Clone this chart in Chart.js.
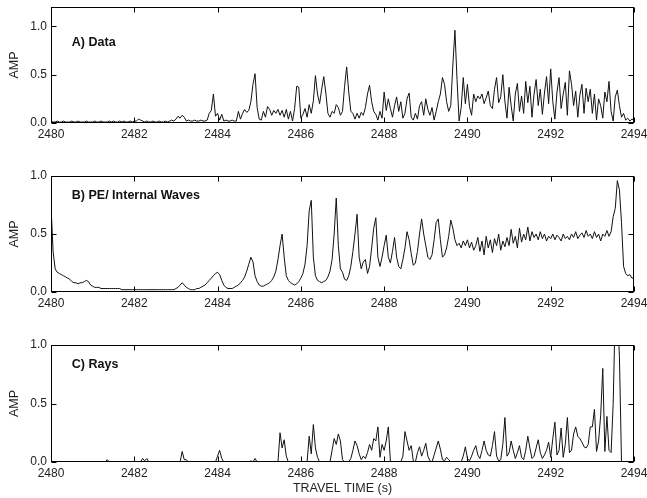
<!DOCTYPE html>
<html lang="en">
<head>
<meta charset="UTF-8">
<title>Arrival amplitudes vs travel time</title>
<script src="https://cdn.jsdelivr.net/npm/chart.js@4.4.0/dist/chart.umd.min.js"></script>
<style>
  html, body { margin: 0; padding: 0; background: #fff; }
  body { width: 647px; height: 498px; position: relative; overflow: hidden; }
  canvas { position: absolute; left: 0; }
  #chartA { top: 0; }
  #chartB { top: 169px; }
  #chartC { top: 338px; }
</style>
</head>
<body>
<canvas id="chartA" width="647" height="143"></canvas>
<canvas id="chartB" width="647" height="143"></canvas>
<canvas id="chartC" width="647" height="160"></canvas>
<script>
// sampling of the traces (s)
const TIME_START = 2480;
const TIME_STEP = 0.05;

const xTicks = [2480, 2482, 2484, 2486, 2488, 2490, 2492, 2494];
const yTicksA = [0, 0.5, 1.0];
const yTicks = [0, 0.5, 1.0];
const panelTitles = ['A) Data', 'B) PE/ Internal Waves', 'C) Rays'];

// A) measured amplitude, one row per second
const ampData = [
  0.02,0.01,0.01,0.02,0.01,0.01,0.02,0.01,0.01,0.01,0.02,0.01,0.01,0.02,0.01,0.01,0.01,0.02,0.01,0.01,
  0.01,0.02,0.01,0.01,0.02,0.01,0.01,0.01,0.02,0.01,0.02,0.01,0.01,0.02,0.01,0.02,0.01,0.01,0.02,0.01,
  0.02,0.02,0.04,0.03,0.02,0.01,0.02,0.01,0.01,0.02,0.01,0.01,0.02,0.01,0.01,0.02,0.01,0.02,0.03,0.02,
  0.04,0.07,0.05,0.08,0.06,0.02,0.03,0.02,0.02,0.03,0.02,0.02,0.03,0.02,0.02,0.03,0.10,0.13,0.30,0.07,
  0.10,0.03,0.09,0.02,0.03,0.02,0.02,0.03,0.02,0.02,0.12,0.04,0.10,0.14,0.11,0.13,0.22,0.40,0.51,0.16,
  0.04,0.03,0.12,0.06,0.17,0.14,0.08,0.13,0.10,0.14,0.08,0.13,0.06,0.14,0.04,0.12,0.02,0.15,0.38,0.37,
  0.05,0.09,0.15,0.06,0.19,0.10,0.23,0.49,0.30,0.20,0.35,0.48,0.31,0.10,0.06,0.12,0.10,0.19,0.16,0.08,
  0.12,0.38,0.58,0.32,0.12,0.10,0.04,0.10,0.05,0.11,0.08,0.16,0.30,0.39,0.22,0.12,0.09,0.03,0.12,0.05,
  0.32,0.13,0.25,0.15,0.06,0.18,0.27,0.12,0.22,0.05,0.10,0.25,0.31,0.06,0.03,0.10,0.04,0.18,0.22,0.08,
  0.25,0.14,0.08,0.16,0.03,0.12,0.22,0.30,0.47,0.40,0.22,0.12,0.18,0.60,0.96,0.45,0.02,0.16,0.47,0.20,
  0.40,0.17,0.08,0.30,0.22,0.28,0.25,0.30,0.20,0.26,0.33,0.18,0.15,0.35,0.47,0.21,0.27,0.50,0.22,0.05,
  0.37,0.18,0.02,0.30,0.41,0.12,0.28,0.10,0.43,0.21,0.38,0.06,0.30,0.45,0.18,0.35,0.09,0.31,0.48,0.20,
  0.56,0.22,0.04,0.32,0.47,0.15,0.30,0.42,0.08,0.54,0.40,0.18,0.33,0.06,0.29,0.40,0.10,0.36,0.22,0.35,
  0.10,0.30,0.03,0.25,0.18,0.05,0.32,0.22,0.43,0.12,0.02,0.27,0.34,0.18,0.06,0.10,0.03,0.05,0.02,0.04,
  0.03
];

// B) parabolic equation with internal waves
const ampPE = [
  0.75,0.35,0.20,0.17,0.16,0.15,0.14,0.13,0.12,0.11,0.09,0.08,0.08,0.07,0.08,0.08,0.09,0.10,0.09,0.06,
  0.05,0.04,0.04,0.04,0.03,0.03,0.03,0.03,0.03,0.03,0.03,0.03,0.03,0.03,0.02,0.02,0.02,0.02,0.02,0.02,
  0.02,0.02,0.02,0.02,0.02,0.02,0.02,0.02,0.02,0.02,0.02,0.02,0.02,0.02,0.02,0.02,0.02,0.02,0.02,0.02,
  0.03,0.04,0.06,0.08,0.06,0.04,0.03,0.02,0.02,0.02,0.03,0.03,0.04,0.05,0.06,0.08,0.10,0.12,0.14,0.16,
  0.17,0.15,0.10,0.06,0.04,0.03,0.03,0.03,0.04,0.05,0.06,0.08,0.10,0.13,0.18,0.24,0.30,0.26,0.14,0.09,
  0.06,0.05,0.05,0.06,0.07,0.08,0.10,0.13,0.18,0.28,0.40,0.50,0.30,0.14,0.10,0.08,0.07,0.06,0.07,0.09,
  0.12,0.16,0.24,0.40,0.70,0.79,0.30,0.14,0.10,0.09,0.08,0.09,0.10,0.13,0.18,0.28,0.50,0.81,0.40,0.20,
  0.17,0.11,0.10,0.14,0.22,0.35,0.50,0.67,0.30,0.20,0.26,0.28,0.16,0.22,0.38,0.55,0.64,0.30,0.22,0.30,
  0.40,0.49,0.30,0.25,0.35,0.47,0.30,0.22,0.20,0.28,0.38,0.52,0.45,0.33,0.23,0.25,0.35,0.50,0.63,0.50,
  0.40,0.30,0.28,0.32,0.45,0.60,0.63,0.45,0.30,0.32,0.38,0.48,0.62,0.55,0.45,0.40,0.42,0.38,0.44,0.40,
  0.45,0.38,0.43,0.36,0.40,0.47,0.35,0.44,0.32,0.48,0.38,0.45,0.34,0.46,0.40,0.50,0.36,0.44,0.39,0.47,
  0.40,0.54,0.42,0.48,0.38,0.55,0.43,0.50,0.45,0.56,0.44,0.52,0.47,0.50,0.45,0.52,0.46,0.50,0.44,0.48,
  0.46,0.50,0.45,0.49,0.47,0.44,0.50,0.46,0.48,0.45,0.50,0.47,0.52,0.46,0.49,0.51,0.47,0.53,0.48,0.50,
  0.46,0.52,0.47,0.50,0.44,0.50,0.48,0.53,0.48,0.52,0.65,0.72,0.96,0.88,0.60,0.22,0.16,0.14,0.15,0.12,
  0.12
];

// C) ray arrivals
const ampRays = [
  0,0,0,0,0,0,0,0,0,0,0,0,0,0,0,0,0,0,0,0,
  0,0,0,0,0,0,0,0.02,0,0,0,0,0,0,0,0,0,0,0,0,
  0,0,0,0,0.03,0.01,0.03,0,0,0,0,0,0,0,0,0,0,0,0,0,
  0,0,0,0.09,0.02,0.02,0,0,0,0,0,0,0,0,0,0,0,0,0,0,
  0.05,0.10,0.03,0,0,0,0,0,0,0,0,0,0,0,0,0,0.01,0,0.03,0,
  0,0,0,0,0,0,0,0,0,0,0.25,0.12,0.19,0.05,0,0,0,0,0,0,
  0,0,0,0,0.22,0.07,0.32,0.12,0.04,0,0,0,0,0,0,0.10,0.20,0.15,0.24,0.18,
  0.02,0,0,0,0.03,0.10,0.18,0.14,0.07,0.02,0.05,0.03,0.08,0.15,0.10,0.20,0.18,0.30,0.04,0.15,
  0.10,0.18,0.30,0.01,0,0,0,0,0,0.05,0.26,0.18,0.10,0.14,0.01,0,0.08,0.13,0.05,0.10,
  0.16,0.05,0.01,0,0.06,0.12,0.18,0.11,0.02,0.01,0.04,0.02,0,0,0,0,0,0,0.05,0.13,
  0.03,0.01,0.05,0.10,0.14,0.06,0.03,0.10,0.18,0.10,0.06,0.05,0.14,0.26,0.05,0.01,0.02,0.15,0.38,0.05,
  0.08,0.18,0.10,0.03,0.08,0.14,0.04,0.02,0.10,0.22,0.12,0.03,0.05,0.12,0.19,0.08,0.03,0.06,0.10,0.17,
  0.04,0.20,0.34,0.06,0.10,0.29,0.04,0.15,0.38,0.08,0.10,0.24,0.30,0.22,0.20,0.17,0.13,0.12,0.15,0.30,
  0.30,0.45,0.09,0.18,0.40,0.80,0.09,0.39,0.10,0.08,0.50,1.30,1.30,0.90,0,0,0,0,0,0,
  0
];

const FONT = '"Liberation Sans", Arial, Helvetica, sans-serif';

function toPoints(values) {
  return values.map((v, i) => ({ x: +(TIME_START + i * TIME_STEP).toFixed(2), y: v }));
}

// box around the plot with inward ticks on all four sides + panel label
const framePlugin = {
  id: 'frame',
  afterDatasetsDraw(chart, args, opts) {
    const { ctx, chartArea: a, scales: { x, y } } = chart;
    const L = Math.round(a.left) + 0.5, R = Math.round(a.right) - 0.5;
    const T = Math.round(a.top) + 0.5, B = Math.round(a.bottom) - 0.5;
    ctx.save();
    ctx.strokeStyle = '#000';
    ctx.lineWidth = 1;
    ctx.strokeRect(L, T, R - L, B - T);
    ctx.beginPath();
    x.ticks.forEach(t => {
      const px = Math.round(x.getPixelForValue(t.value)) + 0.5;
      ctx.moveTo(px, T); ctx.lineTo(px, T + 5);
      ctx.moveTo(px, B); ctx.lineTo(px, B - 5);
    });
    y.ticks.forEach(t => {
      const py = Math.round(y.getPixelForValue(t.value)) + 0.5;
      ctx.moveTo(L, py); ctx.lineTo(L + 5, py);
      ctx.moveTo(R, py); ctx.lineTo(R - 5, py);
    });
    ctx.stroke();
    ctx.fillStyle = '#111';
    ctx.font = 'bold 12.5px ' + FONT;
    ctx.textAlign = 'left';
    ctx.textBaseline = 'middle';
    ctx.fillText(opts.label, x.getPixelForValue(2480.5), y.getPixelForValue(0.83));
    ctx.restore();
  }
};

function makeChart(id, values, label, yMax, yTickList, withTitle) {
  return new Chart(document.getElementById(id), {
    type: 'line',
    data: {
      datasets: [{
        data: toPoints(values),
        borderColor: '#111',
        borderWidth: 1,
        pointRadius: 0,
        tension: 0
      }]
    },
    options: {
      responsive: false,
      animation: false,
      layout: { padding: { top: 7, right: 13, left: 0, bottom: 0 } },
      plugins: {
        legend: { display: false },
        tooltip: { enabled: false },
        frame: { label: label }
      },
      scales: {
        x: {
          type: 'linear',
          min: 2480,
          max: 2494,
          grid: { display: false, drawTicks: false },
          border: { display: false },
          afterBuildTicks: s => { s.ticks = xTicks.map(v => ({ value: v })); },
          afterFit: s => {
            s.height = withTitle ? 36 : 20;
            s.paddingLeft = 0;
            s.paddingRight = 0;
          },
          ticks: {
            padding: 4,
            color: '#222',
            font: { family: FONT, size: 12 },
            maxRotation: 0,
            callback: v => String(v)
          },
          title: {
            display: withTitle,
            text: 'TRAVEL TIME (s)',
            color: '#222',
            font: { family: FONT, size: 12.5 },
            padding: { top: 0, bottom: 2 }
          }
        },
        y: {
          min: 0,
          max: yMax,
          grid: { display: false, drawTicks: false },
          border: { display: false },
          afterBuildTicks: s => { s.ticks = yTickList.map(v => ({ value: v })); },
          afterFit: s => {
            s.width = 51;
            s.paddingTop = 0;
            s.paddingBottom = 0;
          },
          ticks: {
            padding: 4,
            color: '#222',
            font: { family: FONT, size: 12 },
            callback: v => Number(v).toFixed(1)
          },
          title: {
            display: true,
            text: 'AMP',
            color: '#222',
            font: { family: FONT, size: 12.5 },
            padding: { top: 7, bottom: 0 }
          }
        }
      }
    },
    plugins: [framePlugin]
  });
}

makeChart('chartA', ampData, panelTitles[0], 1.2, yTicksA, false);
makeChart('chartB', ampPE, panelTitles[1], 1.0, yTicks, false);
makeChart('chartC', ampRays, panelTitles[2], 1.0, yTicks, true);
</script>
</body>
</html>
